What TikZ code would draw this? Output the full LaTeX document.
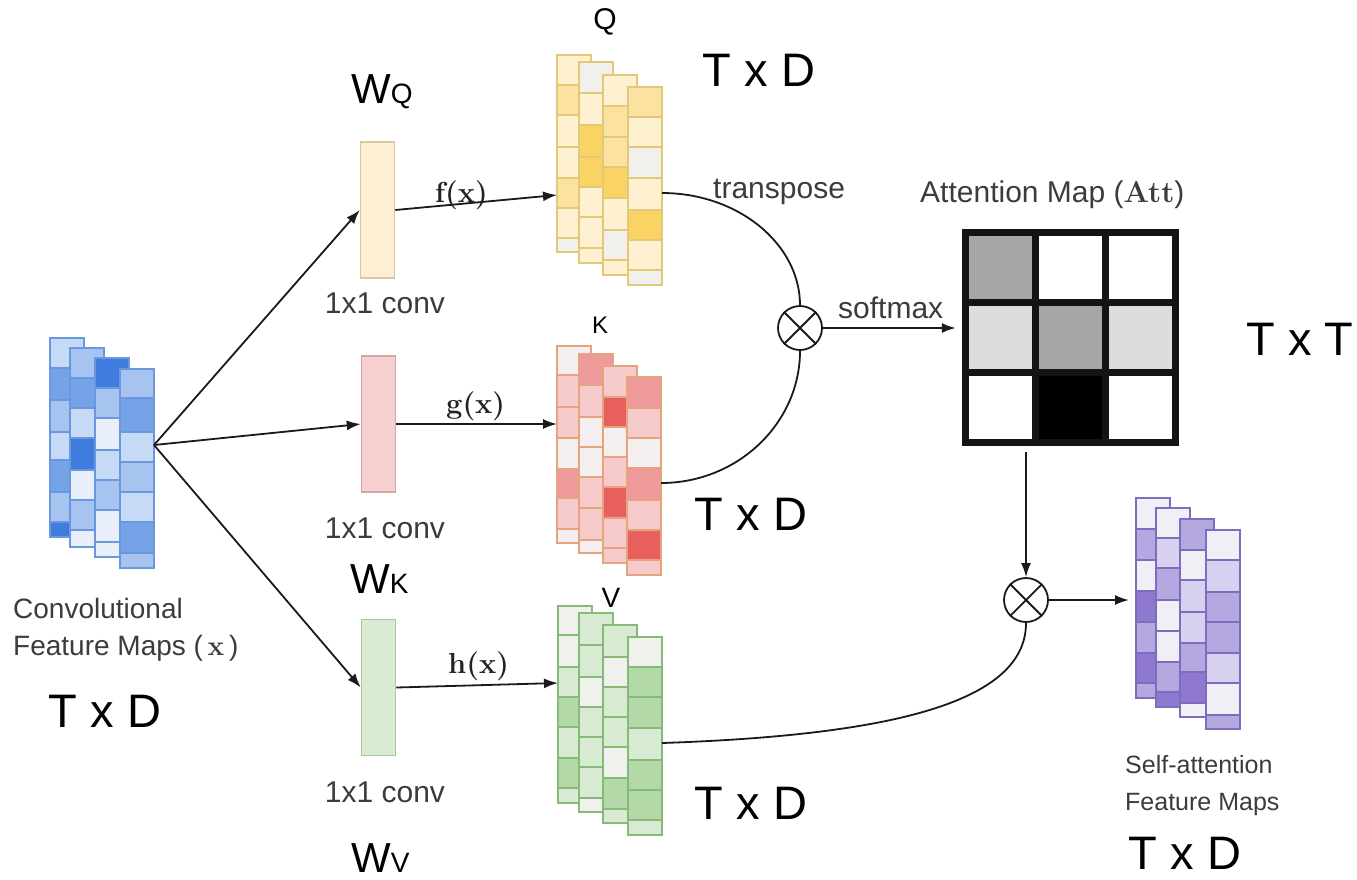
\documentclass[tikz,border=0pt]{standalone}
\usepackage{fontspec}
\newfontfamily\labfont{Liberation Sans}
\usetikzlibrary{arrows.meta}

% blue input maps
\definecolor{bA}{HTML}{E8EFFA}
\definecolor{bB}{HTML}{C6D9F5}
\definecolor{bC}{HTML}{A7C3EF}
\definecolor{bD}{HTML}{74A3E7}
\definecolor{bE}{HTML}{3F7CDD}
\definecolor{bL}{HTML}{6A98DE}
% yellow (query)
\definecolor{yA}{HTML}{F2F0EA}
\definecolor{yB}{HTML}{FDF1D2}
\definecolor{yC}{HTML}{FCE2A0}
\definecolor{yD}{HTML}{F9D363}
\definecolor{yL}{HTML}{E3C877}
% red (key)
\definecolor{rA}{HTML}{F5EFEF}
\definecolor{rB}{HTML}{F6CACA}
\definecolor{rC}{HTML}{EE9A9A}
\definecolor{rD}{HTML}{E75F5F}
\definecolor{rL}{HTML}{E3A47E}
% green (value)
\definecolor{gA}{HTML}{EFF2EC}
\definecolor{gB}{HTML}{D8EBD2}
\definecolor{gC}{HTML}{B4D9A9}
\definecolor{gL}{HTML}{86BA78}
% purple (output)
\definecolor{pA}{HTML}{F0EFF6}
\definecolor{pB}{HTML}{D8D0EF}
\definecolor{pC}{HTML}{B5A8E0}
\definecolor{pD}{HTML}{8E78D0}
\definecolor{pL}{HTML}{7E6DBE}
% conv boxes
\definecolor{qbf}{HTML}{FCEFD2}
\definecolor{qbd}{HTML}{D9C9A0}
\definecolor{kbf}{HTML}{F6D0D0}
\definecolor{kbd}{HTML}{D4A8A8}
\definecolor{vbf}{HTML}{DAEBD4}
\definecolor{vbd}{HTML}{A8C8A0}
% attention map
\definecolor{attA}{HTML}{A5A7A6}
\definecolor{attB}{HTML}{DCDDDF}
\definecolor{gridc}{HTML}{141414}
% lines and text
\definecolor{linec}{HTML}{1A1A1A}
\definecolor{labc}{HTML}{3C3C3C}
\definecolor{fnc}{HTML}{222222}

% one column of a feature-map stack: left x, border colour, cells top/bottom/fill
\newcommand{\fmcolumn}[3]{%
  \foreach \ya/\yb/\fc in {#3}
    \draw[draw=#2, fill=\fc, line width=1.3pt] (#1,\ya) rectangle (#1+34,\yb);
}

\begin{document}
\begin{tikzpicture}[x=1pt,y=-1pt,
  arr/.style={line width=1.8pt, draw=linec, -{Latex[length=14pt,width=10pt]}},
  link/.style={line width=1.8pt, draw=linec},
  convbox/.style={draw, line width=1.5pt, minimum width=34pt, minimum height=136pt, inner sep=0},
  dimlab/.style={font=\labfont\fontsize{47}{56}\selectfont, inner sep=0},
  wlab/.style={font=\labfont\fontsize{42}{50}\selectfont, inner sep=0, anchor=base west},
  qkv/.style={font=\labfont\fontsize{30}{36}\selectfont, inner sep=0, anchor=base},
  greylab/.style={font=\labfont\fontsize{30}{36}\selectfont, text=labc, inner sep=0},
  smallgrey/.style={font=\labfont\fontsize{28}{34}\selectfont, text=labc, inner sep=0, anchor=base west},
  fnlab/.style={font=\rmfamily\bfseries\fontsize{29}{34}\selectfont, inner sep=0, text=fnc, anchor=base west},
  otimes/.style={circle, draw=linec, line width=1.8pt, minimum size=44pt, inner sep=0},
  gridline/.style={line width=7pt, draw=gridc, line cap=rect},
]
\fill[white] (0,0) rectangle (1357,879);
\useasboundingbox (0,0) rectangle (1357,879);

% ---- convolutional feature maps (x)
\fmcolumn{50}{bL}{338/368/bB, 368/400/bD, 400/432/bC, 432/460/bB, 460/492/bD, 492/522/bC, 522/537/bE}
\fmcolumn{70}{bL}{348/378/bC, 378/408/bD, 408/438/bB, 438/470/bE, 470/500/bA, 500/530/bC, 530/547/bA}
\fmcolumn{95}{bL}{358/388/bE, 388/418/bC, 418/450/bA, 450/480/bB, 480/510/bC, 510/542/bA, 542/557/bA}
\fmcolumn{120}{bL}{369/398/bC, 398/432/bD, 432/462/bB, 462/492/bC, 492/522/bB, 522/553/bD, 553/568/bC}

% ---- query maps
\fmcolumn{557}{yL}{55/85/yB, 85/115/yC, 115/147/yB, 147/178/yB, 178/208/yC, 208/238/yB, 238/252/yA}
\fmcolumn{579}{yL}{62/93/yA, 93/125/yB, 125/157/yD, 157/187/yD, 187/217/yB, 217/248/yB, 248/263/yB}
\fmcolumn{603}{yL}{75/106/yB, 106/137/yC, 137/167/yC, 167/198/yD, 198/230/yB, 230/260/yA, 260/275/yB}
\fmcolumn{628}{yL}{87/117/yC, 117/147/yB, 147/178/yA, 178/210/yB, 210/240/yD, 240/270/yB, 270/285/yA}

% ---- key maps
\fmcolumn{557}{rL}{346/375/rA, 375/407/rB, 407/438/rB, 438/469/rA, 469/498/rC, 498/529/rB, 529/543/rA}
\fmcolumn{579}{rL}{354/385/rC, 385/417/rB, 417/447/rA, 447/477/rA, 477/508/rB, 508/540/rB, 540/553/rA}
\fmcolumn{603}{rL}{366/397/rB, 397/427/rD, 427/457/rA, 457/487/rB, 487/518/rD, 518/548/rB, 548/563/rB}
\fmcolumn{627}{rL}{377/408/rC, 408/438/rB, 438/468/rA, 468/500/rC, 500/530/rB, 530/560/rD, 560/575/rB}

% ---- value maps
\fmcolumn{558}{gL}{606/635/gA, 635/667/gA, 667/697/gB, 697/727/gC, 727/758/gB, 758/788/gC, 788/803/gB}
\fmcolumn{579}{gL}{613/645/gB, 645/677/gB, 677/707/gA, 707/737/gB, 737/767/gB, 767/798/gB, 798/812/gA}
\fmcolumn{603}{gL}{625/657/gB, 657/687/gA, 687/717/gB, 717/747/gB, 747/778/gA, 778/809/gC, 809/823/gB}
\fmcolumn{628}{gL}{637/667/gA, 667/697/gC, 697/728/gC, 728/760/gB, 760/790/gC, 790/820/gC, 820/835/gB}

% ---- self-attention feature maps
\fmcolumn{1136}{pL}{498/529/pA, 529/560/pC, 560/591/pA, 591/622/pD, 622/653/pC, 653/683/pD, 683/698/pC}
\fmcolumn{1156}{pL}{508/538/pA, 538/568/pB, 568/600/pC, 600/631/pA, 631/662/pA, 662/692/pC, 692/707/pD}
\fmcolumn{1180}{pL}{519/550/pC, 550/580/pA, 580/612/pB, 612/643/pB, 643/672/pC, 672/703/pD, 703/717/pA}
\fmcolumn{1206}{pL}{530/560/pA, 560/592/pB, 592/622/pC, 622/653/pC, 653/683/pB, 683/715/pA, 715/729/pC}

% ---- attention map
\foreach \i/\j/\fc in {0/0/attA, 1/0/white, 2/0/white,
                       0/1/attB, 1/1/attA, 2/1/attB,
                       0/2/white, 1/2/black, 2/2/white}
  \fill[\fc] (965+70*\i,232+70*\j) rectangle ++(70,70);
\foreach \k in {0,1,2,3} {
  \draw[gridline] (965+70*\k,232) -- (965+70*\k,442);
  \draw[gridline] (965,232+70*\k) -- (1175,232+70*\k);
}
\node[inner sep=0, minimum width=210pt, minimum height=210pt] (att) at (1070,337) {};

% ---- 1x1 convolutions
\node[convbox, draw=qbd, fill=qbf] (wq) at (377.5,210) {};
\node[convbox, draw=kbd, fill=kbf] (wk) at (378.5,424) {};
\node[convbox, draw=vbd, fill=vbf] (wv) at (378.5,687.5) {};

% ---- products
\node[otimes] (ot1) at (800,328) {};
\draw[link] (ot1.north east) -- (ot1.south west) (ot1.north west) -- (ot1.south east);
\node[otimes] (ot2) at (1026,600) {};
\draw[link] (ot2.north east) -- (ot2.south west) (ot2.north west) -- (ot2.south east);

% ---- connector ends on the stacks
\coordinate (xo) at (154,445);
\coordinate (qin) at (557,195);
\coordinate (kin) at (557,424);
\coordinate (vin) at (558,683);
\coordinate (qout) at (662,193);
\coordinate (kout) at (661,483);
\coordinate (vout) at (662,743);
\coordinate (sain) at (1136,600);

% ---- connectors
\draw[arr] (xo) -- (wq.west);
\draw[arr] (xo) -- (wk.west);
\draw[arr] (xo) -- (wv.west);
\draw[arr] (wq.east) -- (qin);
\draw[arr] (wk.east) -- (kin);
\draw[arr] (wv.east) -- (vin);
\draw[link] (qout) .. controls (738,193) and (800,244) .. (ot1.north);
\draw[link] (kout) .. controls (738,483) and (800,423) .. (ot1.south);
\draw[link] (vout) .. controls (900,735) and (1026,700) .. (ot2.south);
\draw[arr, shorten >=9pt] (ot1.east) -- (ot1.east -| att.west);
\draw[arr, shorten <=10pt] (att.south -| ot2.north) -- (ot2.north);
\draw[arr, shorten >=7pt] (ot2.east) -- (sain);

% ---- function labels
\node[fnlab] (fx) at (435,202) {f(x)};
\node[fnlab] (gx) at (446,413) {g(x)};
\node[fnlab] (hx) at (448,673) {h(x)};

% ---- grey captions
\node[greylab, anchor=base] (cq) at (385,313) {1x1 conv};
\node[greylab, anchor=base] (ck) at (385,538) {1x1 conv};
\node[greylab, anchor=base] (cv) at (385,802) {1x1 conv};
\node[greylab, anchor=base west] (tr) at (713,198) {transpose};
\node[greylab, anchor=base west] (sm) at (838,318) {softmax};
\node[greylab, anchor=base west] (am) at (920,202) {Attention Map ({\rmfamily\bfseries Att})};
\node[smallgrey] (cf1) at (13,618) {Convolutional};
\node[smallgrey] (cf2) at (13,655) {Feature Maps (\,{\rmfamily\bfseries x}\,)};
\node[smallgrey, font=\labfont\fontsize{25}{30}\selectfont] (sf1) at (1125,773) {Self-attention};
\node[smallgrey, font=\labfont\fontsize{25}{30}\selectfont] (sf2) at (1125,810) {Feature Maps};

% ---- weight labels
\node[wlab] (wql) at (351,103) {W{\fontsize{28}{30}\selectfont Q}};
\node[wlab] (wkl) at (350,593) {W{\fontsize{28}{30}\selectfont K}};
\node[wlab] (wvl) at (351,872) {W{\fontsize{28}{30}\selectfont V}};

% ---- Q, K, V
\node[qkv] (ql) at (605,29) {Q};
\node[qkv, font=\labfont\fontsize{24}{30}\selectfont] (kl) at (600,333) {K};
\node[qkv, font=\labfont\fontsize{28}{34}\selectfont] (vl) at (611,607) {V};

% ---- shapes
\node[dimlab] (dimq) at (759,70) {T x D};
\node[dimlab] (dimk) at (751,514) {T x D};
\node[dimlab] (dimv) at (751,803) {T x D};
\node[dimlab] (dimx) at (105,711) {T x D};
\node[dimlab] (dimo) at (1185,853) {T x D};
\node[dimlab] (dimt) at (1300,339) {T x T};
\end{tikzpicture}
\end{document}
